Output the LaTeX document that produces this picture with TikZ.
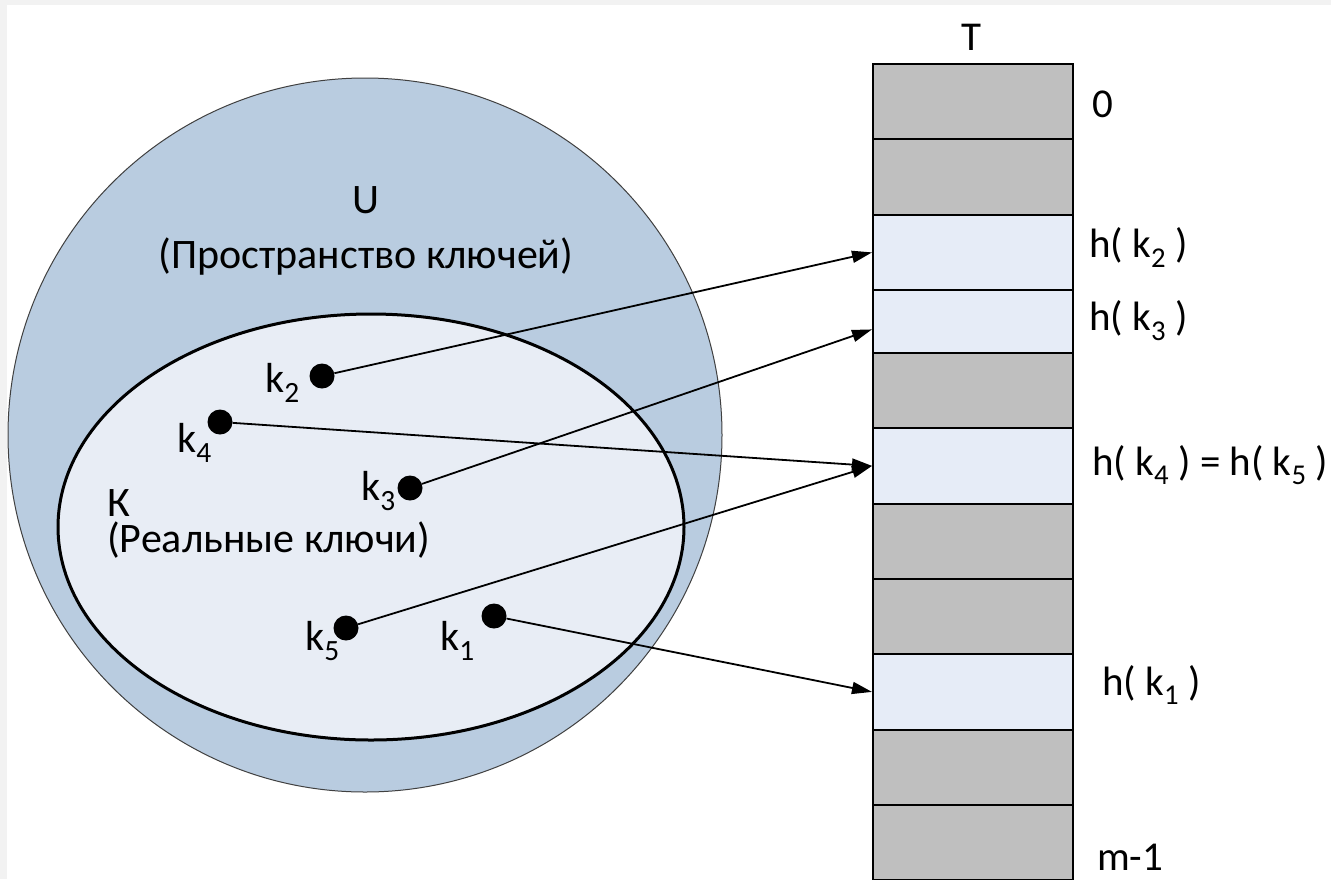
\documentclass[tikz,border=0pt]{standalone}
\usepackage{fontspec}
\setmainfont{Carlito}
\usepackage{xcolor}
\usetikzlibrary{arrows.meta}

\definecolor{ufill}{HTML}{B9CCE0}
\definecolor{kfill}{HTML}{E8EDF5}
\definecolor{cellgray}{HTML}{BFBFBF}
\definecolor{cellblue}{HTML}{E6ECF7}

\begin{document}
\begin{tikzpicture}[x=1pt, y=-1pt,
  lbl/.style={inner sep=0pt, font=\fontsize{42}{48}\selectfont},
  tlbl/.style={inner sep=0pt, anchor=base west, font=\fontsize{41}{48}\selectfont},
  cell/.style={draw, line width=1.8pt, anchor=north west, minimum width=200pt, inner sep=0pt},
  full/.style={cell, fill=cellgray},
  used/.style={cell, fill=cellblue},
  keydot/.style={circle, fill=black, minimum size=25pt, inner sep=0pt},
  hash/.style={line width=1.8pt, -{Triangle[length=20pt,width=12pt]}}]
\useasboundingbox (0,0) rectangle (1331,879);
\fill[black!5] (0,0) rectangle (1331,879);
\fill[white] (7,5) rectangle (1331,879);

\draw[fill=ufill, draw=black!75, line width=1pt] (365,435) circle[radius=357];
\draw[fill=kfill, line width=3pt] (371,527) ellipse[x radius=313, y radius=213];

\node[lbl, align=center, anchor=base, font=\fontsize{42}{55}\selectfont] (ulbl) at (366,268) {U\\(Пространство ключей)};
\node[lbl, align=left, anchor=base west, font=\fontsize{42}{36}\selectfont] (klbl) at (107,552) {К\\(Реальные ключи)};

\node[keydot] (k1) at (494,616) {};
\node[keydot] (k2) at (322,376) {};
\node[keydot] (k3) at (410,488) {};
\node[keydot] (k4) at (220,422) {};
\node[keydot] (k5) at (346,628) {};
\node[lbl, anchor=base west] (k1lbl) at (440,650) {k\textsubscript{1}};
\node[lbl, anchor=base west] (k2lbl) at (265,392) {k\textsubscript{2}};
\node[lbl, anchor=base west] (k3lbl) at (361,500) {k\textsubscript{3}};
\node[lbl, anchor=base west] (k4lbl) at (177,452) {k\textsubscript{4}};
\node[lbl, anchor=base west] (k5lbl) at (305,650) {k\textsubscript{5}};

\node[full, minimum height=75pt] (t0) at (872,63) {};
\node[full, minimum height=76pt] (t1) at (872,138) {};
\node[used, minimum height=75pt] (t2) at (872,214) {};
\node[used, minimum height=63pt] (t3) at (872,289) {};
\node[full, minimum height=75pt] (t4) at (872,352) {};
\node[used, minimum height=76pt] (t5) at (872,427) {};
\node[full, minimum height=75pt] (t6) at (872,503) {};
\node[full, minimum height=75pt] (t7) at (872,578) {};
\node[used, minimum height=76pt] (t8) at (872,653) {};
\node[full, minimum height=75pt] (t9) at (872,729) {};
\node[full, minimum height=75pt] (t10) at (872,804) {};

\node[tlbl, anchor=base] (tname) at (971,50) {T};
\node[tlbl] (t0lbl) at (1092,117) {0};
\node[tlbl] (t2lbl) at (1089,257) {h( k\textsubscript{2} )};
\node[tlbl] (t3lbl) at (1089,330) {h( k\textsubscript{3} )};
\node[tlbl] (t5lbl) at (1092,475) {h( k\textsubscript{4} ) = h( k\textsubscript{5} )};
\node[tlbl] (t8lbl) at (1102,695) {h( k\textsubscript{1} )};
\node[tlbl] (t10lbl) at (1097,870) {m-1};

\draw[hash] (k2) -- (t2.west);
\draw[hash] (k3) -- ([yshift=-8pt]t3.west);
\draw[hash] (k4) -- (t5.west);
\draw[hash] (k5) -- (t5.west);
\draw[hash] (k1) -- (t8.west);
\end{tikzpicture}
\end{document}
